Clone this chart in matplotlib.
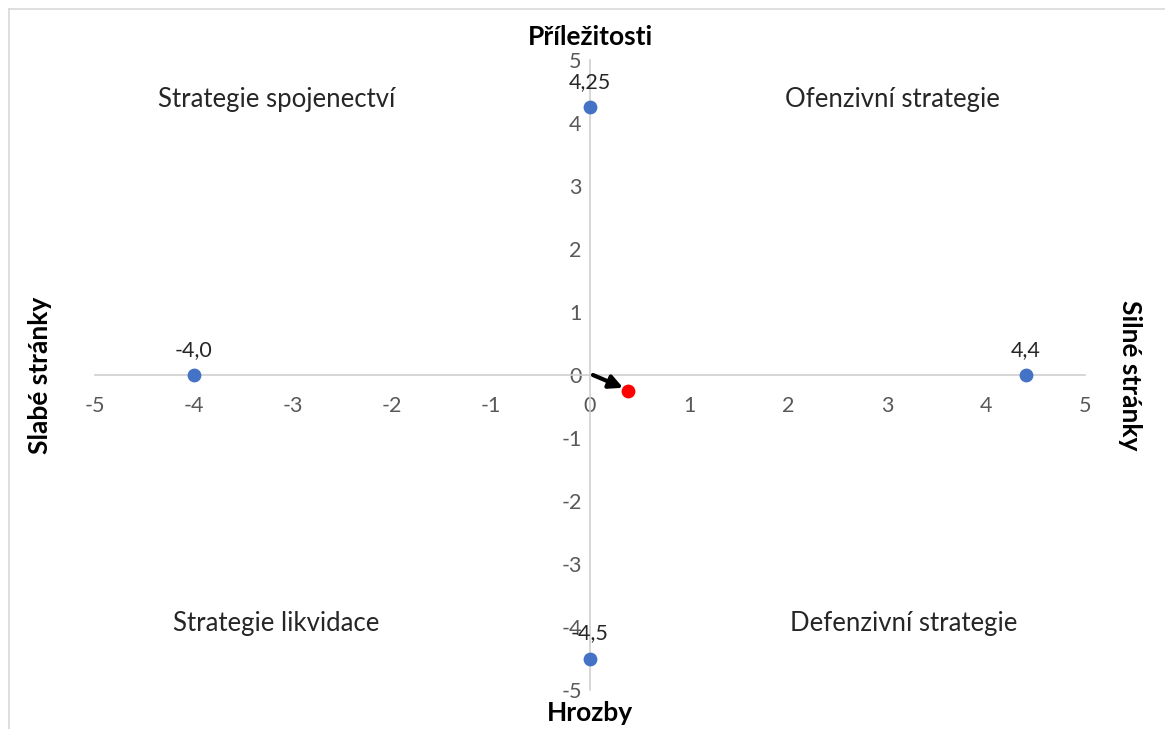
import matplotlib
matplotlib.use("Agg")
import matplotlib.pyplot as plt
from matplotlib.lines import Line2D

plt.rcParams['font.family'] = ['Lato', 'DejaVu Sans']

# SWOT values
point_x = [0, -4.0, 4.4, 0]
point_y = [4.25, 0, 0, -4.5]
point_labels = ['4,25', '-4,0', '4,4', '-4,5']
result_x = 0.38
result_y = -0.25

ticks = [-5, -4, -3, -2, -1, 0, 1, 2, 3, 4, 5]
quadrants = ['Strategie spojenectví', 'Ofenzivní strategie',
             'Strategie likvidace', 'Defenzivní strategie']
quad_x = [-3.17, 3.05, -3.17, 3.17]
quad_y = [4.37, 4.37, -3.95, -3.95]

fig = plt.figure(figsize=(11.65, 7.29), dpi=100)
ax = fig.add_axes([95 / 1165, 1 - 690 / 729, 990 / 1165, 630 / 729])

ax.set_xlim(-5, 5)
ax.set_ylim(-5, 5)
for s in ['top', 'right']:
    ax.spines[s].set_visible(False)
ax.spines['left'].set_position(('data', 0))
ax.spines['bottom'].set_position(('data', 0))
ax.spines['left'].set_color('#d0d0d0')
ax.spines['bottom'].set_color('#d0d0d0')
ax.spines['left'].set_linewidth(1.2)
ax.spines['bottom'].set_linewidth(1.2)

ax.set_xticks(ticks)
ax.set_yticks(ticks)
ax.set_xticklabels([str(t) for t in ticks])
ax.set_yticklabels([str(t) for t in ticks])
ax.tick_params(axis='x', length=0, pad=15, labelsize=15.5, labelcolor='#595959')
ax.tick_params(axis='y', length=0, pad=6, labelsize=15.5, labelcolor='#595959')

ax.scatter(point_x, point_y, s=80, color='#4472C4', zorder=3, clip_on=False)
for x, y, lab in zip(point_x, point_y, point_labels):
    ax.annotate(lab, (x, y), xytext=(0, 11), textcoords='offset points',
                ha='center', va='bottom', fontsize=15.5, color='#262626')

ax.scatter([result_x], [result_y], s=80, color='#FF0000', zorder=4)
ax.annotate('', xy=(result_x - 0.02, result_y + 0.03), xytext=(0.03, 0),
            arrowprops=dict(arrowstyle='-|>', color='black', lw=3,
                            mutation_scale=20, shrinkA=0, shrinkB=2), zorder=5)

for q, x, y in zip(quadrants, quad_x, quad_y):
    ax.text(x, y, q, ha='center', va='center', fontsize=18.5, color='#262626')

bold = dict(fontsize=19, fontweight='bold', color='#000000', ha='center', va='center')
fig.text(590 / 1165, 1 - 37 / 729, 'Příležitosti', **bold)
fig.text(590 / 1165, 1 - 713 / 729, 'Hrozby', **bold)
fig.text(40 / 1165, 1 - 375 / 729, 'Slabé stránky', rotation=90, **bold)
fig.text(1130 / 1165, 1 - 375 / 729, 'Silné stránky', rotation=-90, **bold)

# outer chart frame
fig.add_artist(Line2D([8.5 / 1165, 1], [1 - 9 / 729, 1 - 9 / 729], color='#d9d9d9', lw=1.2))
fig.add_artist(Line2D([8.5 / 1165, 8.5 / 1165], [0, 1 - 9 / 729], color='#d9d9d9', lw=1.2))

fig.savefig('out.png', dpi=100)
